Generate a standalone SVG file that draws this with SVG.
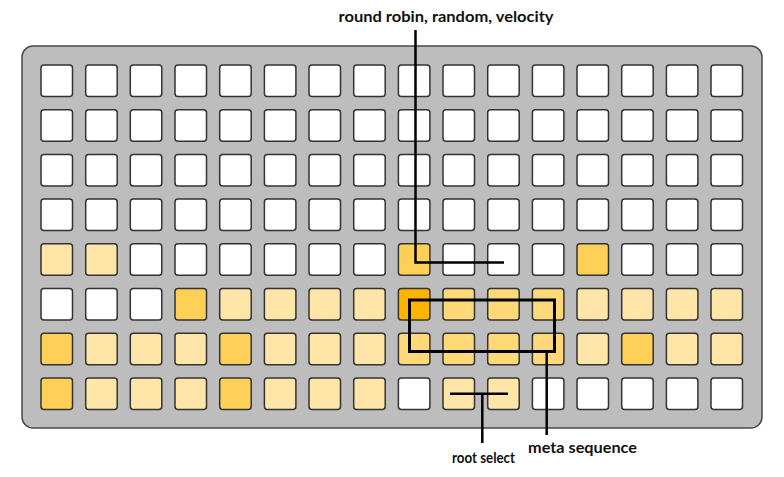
<svg xmlns="http://www.w3.org/2000/svg" width="784" height="477" viewBox="0 0 784 477">
<style>
.panel{fill:#bdbdbd;stroke:#4a4a4a;stroke-width:1.5}
.p{stroke:#333;stroke-width:1.5;width:31.5px;height:31.5px}
.W{fill:#ffffff}.L{fill:#ffe6a8}.M{fill:#ffd057}.S{fill:#ffd878}.D{fill:#ffb400}
.ln{fill:none;stroke:#000;stroke-width:2.5}
.t{font-family:Lato,"Open Sans","Liberation Sans",sans-serif;font-weight:bold;font-size:14.5px;fill:#111}
</style>
<rect class="panel" x="22" y="46" width="740" height="382" rx="11"/>
<g id="pads">
<g id="r0"><rect class="p W" x="41" y="65" rx="3"/><rect class="p W" x="85.7" y="65" rx="3"/><rect class="p W" x="130.3" y="65" rx="3"/><rect class="p W" x="175" y="65" rx="3"/><rect class="p W" x="219.7" y="65" rx="3"/><rect class="p W" x="264.4" y="65" rx="3"/><rect class="p W" x="309" y="65" rx="3"/><rect class="p W" x="353.7" y="65" rx="3"/><rect class="p W" x="398.4" y="65" rx="3"/><rect class="p W" x="443" y="65" rx="3"/><rect class="p W" x="487.7" y="65" rx="3"/><rect class="p W" x="532.4" y="65" rx="3"/><rect class="p W" x="577" y="65" rx="3"/><rect class="p W" x="621.7" y="65" rx="3"/><rect class="p W" x="666.4" y="65" rx="3"/><rect class="p W" x="711" y="65" rx="3"/></g>
<g id="r1"><rect class="p W" x="41" y="109.7" rx="3"/><rect class="p W" x="85.7" y="109.7" rx="3"/><rect class="p W" x="130.3" y="109.7" rx="3"/><rect class="p W" x="175" y="109.7" rx="3"/><rect class="p W" x="219.7" y="109.7" rx="3"/><rect class="p W" x="264.4" y="109.7" rx="3"/><rect class="p W" x="309" y="109.7" rx="3"/><rect class="p W" x="353.7" y="109.7" rx="3"/><rect class="p W" x="398.4" y="109.7" rx="3"/><rect class="p W" x="443" y="109.7" rx="3"/><rect class="p W" x="487.7" y="109.7" rx="3"/><rect class="p W" x="532.4" y="109.7" rx="3"/><rect class="p W" x="577" y="109.7" rx="3"/><rect class="p W" x="621.7" y="109.7" rx="3"/><rect class="p W" x="666.4" y="109.7" rx="3"/><rect class="p W" x="711" y="109.7" rx="3"/></g>
<g id="r2"><rect class="p W" x="41" y="154.4" rx="3"/><rect class="p W" x="85.7" y="154.4" rx="3"/><rect class="p W" x="130.3" y="154.4" rx="3"/><rect class="p W" x="175" y="154.4" rx="3"/><rect class="p W" x="219.7" y="154.4" rx="3"/><rect class="p W" x="264.4" y="154.4" rx="3"/><rect class="p W" x="309" y="154.4" rx="3"/><rect class="p W" x="353.7" y="154.4" rx="3"/><rect class="p W" x="398.4" y="154.4" rx="3"/><rect class="p W" x="443" y="154.4" rx="3"/><rect class="p W" x="487.7" y="154.4" rx="3"/><rect class="p W" x="532.4" y="154.4" rx="3"/><rect class="p W" x="577" y="154.4" rx="3"/><rect class="p W" x="621.7" y="154.4" rx="3"/><rect class="p W" x="666.4" y="154.4" rx="3"/><rect class="p W" x="711" y="154.4" rx="3"/></g>
<g id="r3"><rect class="p W" x="41" y="199.1" rx="3"/><rect class="p W" x="85.7" y="199.1" rx="3"/><rect class="p W" x="130.3" y="199.1" rx="3"/><rect class="p W" x="175" y="199.1" rx="3"/><rect class="p W" x="219.7" y="199.1" rx="3"/><rect class="p W" x="264.4" y="199.1" rx="3"/><rect class="p W" x="309" y="199.1" rx="3"/><rect class="p W" x="353.7" y="199.1" rx="3"/><rect class="p W" x="398.4" y="199.1" rx="3"/><rect class="p W" x="443" y="199.1" rx="3"/><rect class="p W" x="487.7" y="199.1" rx="3"/><rect class="p W" x="532.4" y="199.1" rx="3"/><rect class="p W" x="577" y="199.1" rx="3"/><rect class="p W" x="621.7" y="199.1" rx="3"/><rect class="p W" x="666.4" y="199.1" rx="3"/><rect class="p W" x="711" y="199.1" rx="3"/></g>
<g id="r4"><rect class="p L" x="41" y="243.8" rx="3"/><rect class="p L" x="85.7" y="243.8" rx="3"/><rect class="p W" x="130.3" y="243.8" rx="3"/><rect class="p W" x="175" y="243.8" rx="3"/><rect class="p W" x="219.7" y="243.8" rx="3"/><rect class="p W" x="264.4" y="243.8" rx="3"/><rect class="p W" x="309" y="243.8" rx="3"/><rect class="p W" x="353.7" y="243.8" rx="3"/><rect class="p M" x="398.4" y="243.8" rx="3"/><rect class="p W" x="443" y="243.8" rx="3"/><rect class="p W" x="487.7" y="243.8" rx="3"/><rect class="p W" x="532.4" y="243.8" rx="3"/><rect class="p M" x="577" y="243.8" rx="3"/><rect class="p W" x="621.7" y="243.8" rx="3"/><rect class="p W" x="666.4" y="243.8" rx="3"/><rect class="p W" x="711" y="243.8" rx="3"/></g>
<g id="r5"><rect class="p W" x="41" y="288.5" rx="3"/><rect class="p W" x="85.7" y="288.5" rx="3"/><rect class="p W" x="130.3" y="288.5" rx="3"/><rect class="p M" x="175" y="288.5" rx="3"/><rect class="p L" x="219.7" y="288.5" rx="3"/><rect class="p L" x="264.4" y="288.5" rx="3"/><rect class="p L" x="309" y="288.5" rx="3"/><rect class="p L" x="353.7" y="288.5" rx="3"/><rect class="p D" x="398.4" y="288.5" rx="3"/><rect class="p S" x="443" y="288.5" rx="3"/><rect class="p S" x="487.7" y="288.5" rx="3"/><rect class="p S" x="532.4" y="288.5" rx="3"/><rect class="p L" x="577" y="288.5" rx="3"/><rect class="p L" x="621.7" y="288.5" rx="3"/><rect class="p L" x="666.4" y="288.5" rx="3"/><rect class="p L" x="711" y="288.5" rx="3"/></g>
<g id="r6"><rect class="p M" x="41" y="333.2" rx="3"/><rect class="p L" x="85.7" y="333.2" rx="3"/><rect class="p L" x="130.3" y="333.2" rx="3"/><rect class="p L" x="175" y="333.2" rx="3"/><rect class="p M" x="219.7" y="333.2" rx="3"/><rect class="p L" x="264.4" y="333.2" rx="3"/><rect class="p L" x="309" y="333.2" rx="3"/><rect class="p L" x="353.7" y="333.2" rx="3"/><rect class="p S" x="398.4" y="333.2" rx="3"/><rect class="p S" x="443" y="333.2" rx="3"/><rect class="p S" x="487.7" y="333.2" rx="3"/><rect class="p S" x="532.4" y="333.2" rx="3"/><rect class="p L" x="577" y="333.2" rx="3"/><rect class="p M" x="621.7" y="333.2" rx="3"/><rect class="p L" x="666.4" y="333.2" rx="3"/><rect class="p L" x="711" y="333.2" rx="3"/></g>
<g id="r7"><rect class="p M" x="41" y="377.9" rx="3"/><rect class="p L" x="85.7" y="377.9" rx="3"/><rect class="p L" x="130.3" y="377.9" rx="3"/><rect class="p L" x="175" y="377.9" rx="3"/><rect class="p M" x="219.7" y="377.9" rx="3"/><rect class="p L" x="264.4" y="377.9" rx="3"/><rect class="p L" x="309" y="377.9" rx="3"/><rect class="p L" x="353.7" y="377.9" rx="3"/><rect class="p W" x="398.4" y="377.9" rx="3"/><rect class="p L" x="443" y="377.9" rx="3"/><rect class="p L" x="487.7" y="377.9" rx="3"/><rect class="p W" x="532.4" y="377.9" rx="3"/><rect class="p W" x="577" y="377.9" rx="3"/><rect class="p W" x="621.7" y="377.9" rx="3"/><rect class="p W" x="666.4" y="377.9" rx="3"/><rect class="p W" x="711" y="377.9" rx="3"/></g>
</g>
<g id="connectors">
<path class="ln" d="M415.5 30 V262.5 H504"/>
<rect class="ln" x="409.5" y="300" width="145" height="51.5" style="stroke-width:3"/>
<path class="ln" d="M546.7 351.5 V435"/>
<path class="ln" d="M450 393.7 H508 M482.3 393.7 V443"/>
</g>
<g id="label-rr"><text class="t" x="446" y="22" text-anchor="middle" textLength="215" lengthAdjust="spacingAndGlyphs">round robin, random, velocity</text></g>
<g id="label-meta"><text class="t" x="528" y="453" textLength="109" lengthAdjust="spacingAndGlyphs">meta sequence</text></g>
<g id="label-root"><text class="t" x="452" y="463" textLength="63" lengthAdjust="spacingAndGlyphs">root select</text></g>
</svg>
